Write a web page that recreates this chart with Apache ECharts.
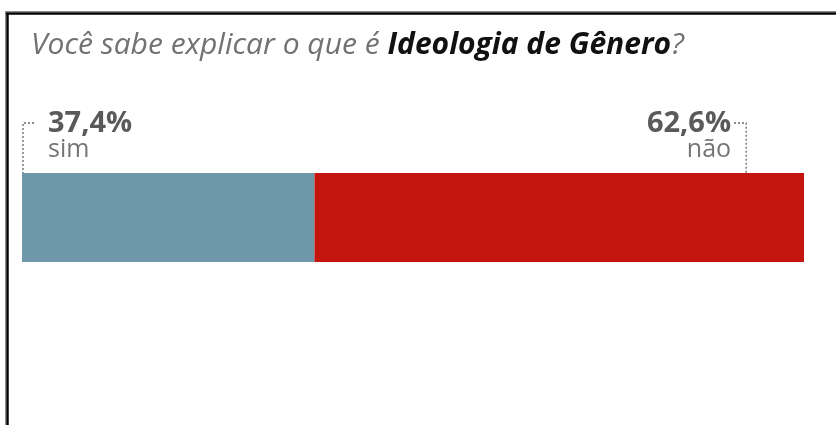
<!DOCTYPE html>
<html>
<head>
<meta charset="utf-8">
<script src="https://cdn.jsdelivr.net/npm/echarts@6/dist/echarts.min.js"></script>
<style>
  html, body { margin: 0; padding: 0; background: #fff; }
  #chart { width: 836px; height: 425px; }
</style>
</head>
<body>
<div id="chart"></div>
<script>
// Survey answers, in percent
var answers = ['sim', 'não'];
var shares = [37.4, 62.6];
var colors = ['#6f97aa', '#c4150f'];
var question = 'Ideologia de Gênero';

function pct(v) {
  return v.toFixed(1).replace('.', ',') + '%';
}

var chart = echarts.init(document.getElementById('chart'), null, { renderer: 'canvas' });

var labelRich = {
  v: { fontFamily: 'Open Sans', fontWeight: 'bold', fontSize: 29, color: '#5a5a5a', lineHeight: 28 },
  s: { fontFamily: 'Open Sans', fontSize: 25, color: '#757575', lineHeight: 23 }
};

var series = answers.map(function (name, i) {
  var first = i === 0;
  return {
    name: name,
    type: 'bar',
    stack: 'total',
    barWidth: 89,
    data: [shares[i]],
    itemStyle: { color: colors[i] },
    silent: true,
    label: {
      show: true,
      position: first ? [26, -63] : ['85.1%', -63],
      align: first ? 'left' : 'right',
      formatter: function (p) { return '{v|' + pct(p.value) + '}\n{s|' + p.seriesName + '}'; },
      rich: labelRich
    }
  };
});

chart.setOption({
  animation: false,
  backgroundColor: '#fff',
  title: {
    left: 26,
    top: 25,
    text: '{a|Você sabe explicar o que é }{b|' + question + '}{a|?}',
    textStyle: {
      rich: {
        a: { fontFamily: 'Open Sans', fontStyle: 'italic', fontWeight: 'normal', fontSize: 30, color: '#727272' },
        b: { fontFamily: 'Open Sans', fontStyle: 'italic', fontWeight: 'bold', fontSize: 30, color: '#111' }
      }
    }
  },
  grid: { left: 22, right: 32, top: 173, height: 89 },
  xAxis: { type: 'value', min: 0, max: 100, show: false },
  yAxis: { type: 'category', data: [question], show: false },
  series: series
});

// Frame and dotted bracket guides, placed from the axis scale
function place() {
  var x0 = chart.convertToPixel({ gridIndex: 0 }, [0, 0])[0];
  var yTop = 173;
  var xr = chart.convertToPixel({ gridIndex: 0 }, [92.6, 0])[0];
  var dash = { stroke: '#666', lineWidth: 1.3, lineDash: [2, 2], fill: null };
  chart.setOption({
    graphic: [
      { type: 'polyline', silent: true, shape: { points: [[34, 123], [x0 + 1, 123], [x0 + 1, yTop]] }, style: dash },
      { type: 'polyline', silent: true, shape: { points: [[734, 123], [xr, 123], [xr, yTop]] }, style: dash },
      { type: 'line', silent: true, shape: { x1: 5, y1: 13, x2: 836, y2: 13 }, style: { stroke: '#8a8a8a', lineWidth: 4 } },
      { type: 'line', silent: true, shape: { x1: 7, y1: 13, x2: 7, y2: 425 }, style: { stroke: '#8a8a8a', lineWidth: 4 } },
      { type: 'line', silent: true, shape: { x1: 6, y1: 13.5, x2: 836, y2: 13.5 }, style: { stroke: '#000', lineWidth: 2 } },
      { type: 'line', silent: true, shape: { x1: 7.5, y1: 13, x2: 7.5, y2: 425 }, style: { stroke: '#000', lineWidth: 2 } }
    ]
  });
}
place();
</script>
</body>
</html>
